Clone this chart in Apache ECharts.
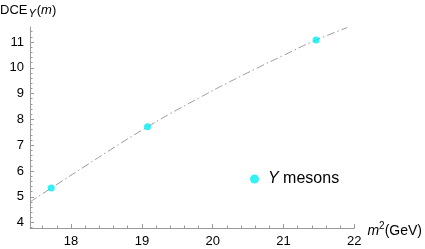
<!DOCTYPE html>
<html><head><meta charset="utf-8">
<script src="https://cdn.jsdelivr.net/npm/echarts@6/dist/echarts.min.js"></script>
<style>html,body{margin:0;padding:0;background:#fff}#c{width:425px;height:249px}</style>
</head><body><div id="c"></div>
<script>
// Data points (Upsilon mesons)
const mesonX = [17.72, 19.08, 21.46];
const mesonY = [5.34, 7.71, 11.08];
// Fitted dash-dot curve
const curveX = [17.42, 17.8, 18.2, 18.6, 19.0, 19.4, 19.8, 20.2, 20.6, 21.0, 21.4, 21.9];
const curveY = [4.80, 5.48, 6.19, 6.90, 7.58, 8.22, 8.82, 9.40, 9.95, 10.48, 11.00, 11.56];
// Tick labels
const xTicks = [18, 19, 20, 21, 22];
const yTicks = [4, 5, 6, 7, 8, 9, 10, 11];

const xMin = 17.42, xMax = 22, yMin = 3.79, yMax = 11.58;
const xMinor = [], yMinor = [];
for (let v = 17.6; v <= xMax + 1e-9; v += 0.2) { const r = Math.round(v*10)/10; if (!xTicks.includes(r)) xMinor.push(r); }
for (let v = 3.8; v <= yMax + 1e-9; v += 0.2) { const r = Math.round(v*10)/10; if (!yTicks.includes(r)) yMinor.push(r); }

const axisGray = '#9a9a9a';
const font = 'Liberation Sans, Arial, sans-serif';
const chart = echarts.init(document.getElementById('c'), null, {renderer: 'canvas'});
chart.setOption({
  animation: false,
  grid: {left: 30, right: 70, top: 27, bottom: 21, containLabel: false},
  xAxis: [
    {type: 'value', min: xMin, max: xMax, position: 'bottom',
     axisLine: {show: true, onZero: false, lineStyle: {color: axisGray, width: 1}},
     axisTick: {show: true, inside: true, length: 4, customValues: xTicks, lineStyle: {color: axisGray}},
     axisLabel: {show: true, customValues: xTicks, color: '#000', fontSize: 13, fontFamily: font, margin: 7},
     splitLine: {show: false},
     name: '{i|m}{sup|2}(GeV)', nameLocation: 'end', nameGap: 12,
     nameTextStyle: {color: '#000', fontSize: 14, fontFamily: font, verticalAlign: 'middle', padding: [6,0,0,0],
       rich: {i: {fontStyle: 'italic', fontSize: 14, fontFamily: font, color: '#000'},
              sup: {fontSize: 10, fontFamily: font, color: '#000', verticalAlign: 'bottom', padding: [0,0,9,0]}}}},
    {type: 'value', min: xMin, max: xMax, position: 'bottom',
     axisLine: {show: false, onZero: false},
     axisTick: {show: true, inside: true, length: 2.5, customValues: xMinor, lineStyle: {color: axisGray}},
     axisLabel: {show: false}, splitLine: {show: false}}
  ],
  yAxis: [
    {type: 'value', min: yMin, max: yMax, position: 'left',
     axisLine: {show: true, onZero: false, lineStyle: {color: axisGray, width: 1}},
     axisTick: {show: true, inside: true, length: 4, customValues: yTicks, lineStyle: {color: axisGray}},
     axisLabel: {show: true, customValues: yTicks, color: '#000', fontSize: 13, fontFamily: font, margin: 6},
     splitLine: {show: false}},
    {type: 'value', min: yMin, max: yMax, position: 'left',
     axisLine: {show: false, onZero: false},
     axisTick: {show: true, inside: true, length: 2.5, customValues: yMinor, lineStyle: {color: axisGray}},
     axisLabel: {show: false}, splitLine: {show: false}}
  ],
  graphic: [
    {type: 'text', left: 0, top: 4,
     style: {text: 'DCE{sub|Υ}({i|m})', fill: '#000', font: '13px ' + font,
       rich: {sub: {fontStyle: 'italic', fontSize: 11, fontFamily: font, fill: '#000', padding: [7,1,0,1]},
              i: {fontStyle: 'italic', fontSize: 13, fontFamily: font, fill: '#000'}}}}
  ],
  legend: {show: true, left: 245, top: 166, icon: 'circle', itemWidth: 9, itemHeight: 9, itemGap: 8,
    data: ['Υ mesons'],
    formatter: function(){ return '{i|Υ} mesons'; },
    textStyle: {color: '#000', fontSize: 16, fontFamily: font, padding: [0,0,0,4],
      rich: {i: {fontStyle: 'italic', fontSize: 16, fontFamily: font, color: '#000'}}}},
  series: [
    {type: 'line', name: 'curve', xAxisIndex: 0, yAxisIndex: 0, smooth: true, symbol: 'none', clip: true,
     data: curveX.map((x, i) => [x, curveY[i]]),
     lineStyle: {color: '#999999', width: 1, type: [8, 3, 1.5, 3]}, z: 2},
    {type: 'scatter', name: 'Υ mesons', xAxisIndex: 0, yAxisIndex: 0, symbol: 'circle', symbolSize: 7,
     data: mesonX.map((x, i) => [x, mesonY[i]]),
     itemStyle: {color: '#00eef2'}, z: 3}
  ]
});
</script></body></html>
